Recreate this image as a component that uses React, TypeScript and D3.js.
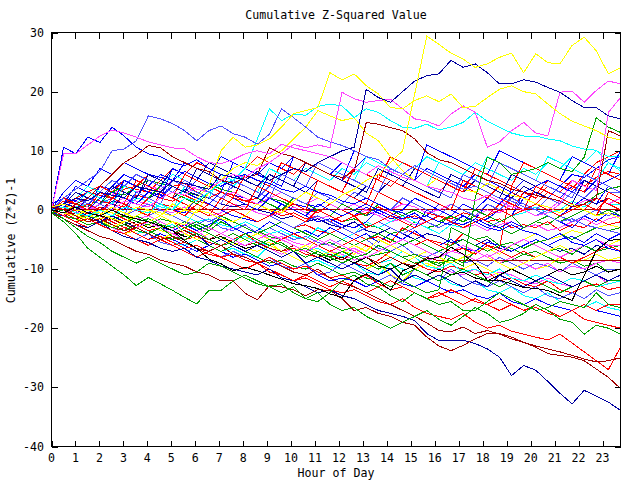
import React from 'react';
import * as d3 from 'd3';

const TITLE = 'Cumulative Z-Squared Value';
const X_LABEL = 'Hour of Day';
const Y_LABEL = 'Cumulative (Z*Z)-1';
const X_DOMAIN: [number, number] = [0, 23.75];
const Y_DOMAIN: [number, number] = [-40, 30];
const X_TICKS = [0, 1, 2, 3, 4, 5, 6, 7, 8, 9, 10, 11, 12, 13, 14, 15, 16, 17, 18, 19, 20, 21, 22, 23];
const Y_TICKS = [-40, -30, -20, -10, 0, 10, 20, 30];

// Each series: cumulative value every half hour across the day (48 readings)
const zeroLine = [0,0,0,0,0,0,0,0, 0,0,0,0,0,0,0,0, 0,0,0,0,0,0,0,0, 0,0,0,0,0,0,0,0, 0,0,0,0,0,0,0,0, 0,0,0,0,0,0,0,0];
const b01 = [0,1,3,2,1.5,1,0.5,2.5, 2,1,0.5,0,-0.5,1,0,-1, -1.5,-2,-1,-2,-3,-2.5,-3.5,-4, -3,-4,-5,-4.5,-5.5,-3,-4,-5, -5.5,-6,-4,-5,-6,-6.5,4,3, 2.5,5,4,3.5,6,8,9,10];
const b02 = [1,2,1.5,0.5,4,3.5,5,4, 3,2.5,4,3,5,4,3,2.5, 2,1,3,2,1,0.5,-0.5,1, 0,-1,0.5,-0.5,-1.5,-1,0,-1, 1,0,-1,-2,-1.5,0,-1,3, 4,5,4,6,5.5,7,8.5,9];
const b03 = [0,-1,-0.5,-1.5,-2.5,-2,-3,-4, -3.5,-4.5,-5.5,-6,-5,-6,-7,-6.5, -7.5,-8,-6,-7,-8,-9,-8.5,-9.5, -10,-9,-10.5,-11,-9,-10,-11.5,-12, -11,-12.5,-13,-12,-13.5,-14,-13,-14.5, -15,-14,-15.5,-16,-16.5,-15.5,-16.5,-17];
const b04 = [0,-0.5,1,0.5,2,3,2.5,4, 5,4.5,4,3,2.5,4.5,3.5,3, 2,1,2,1.5,0.5,-0.5,0,-1, -2,-1.5,-2.5,-3,-4,-3.5,-2,-3, -2.5,-1,-2,-1,-2,-3,-4,-3, -2,-2.5,-1,0,1,2.5,3.5,4];
const b05 = [0,-1,0.5,0,-1,-1.5,-2.5,-2, -3,-2,-3,-4,-3.5,-5,-4.5,-5.5, -6,-5,-6.5,-7.5,-6.5,-7,-8,-7, -7.5,-8.5,-8,-9.5,-10,-9,-10,-11, -9.5,-10.5,-11,-10,-11.5,-10.5,-11,-12, -12.5,-11.5,-12.5,-13,-12,-11,-12.5,-12];
const b06 = [-0.5,-1,-2,-1.5,-2.5,-3.5,-3,-4, -5,-4,-5,-6,-7,-6,-7,-8, -7.5,-8.5,-9.5,-9,-10,-9.5,-11,-12, -11.5,-12,-13,-12,-11,-12.5,-13,-12, -13,-14,-13.5,-14.5,-15,-14,-15.5,-16, -15,-16,-16.5,-17,-16,-17,-17.5,-18];
const b07 = [0,0.5,-0.5,-1,-1.5,-1,-2,-3, -2.5,-3.5,-4,-3,-4,-5,-4.5,-6, -5,-6,-5.5,-7,-6,-7,-5,-6, -7,-7.5,-6,-7,-8,-9,-8,-9.5, -8.5,-9,-8,-7,-6.5,-7.5,-6,-5, -4,-5,-4.5,-3.5,-4,-3,-2.5,-3];
const b08 = [0,1,0,-0.5,1,2,1,0, -1,0,-1,-2,-2.5,-1.5,-3,-3.5, -2.5,-4,-3,-4,-5,-4.5,-5.5,-6, -5,-6,-5,-6.5,-7,-6,-7.5,-8, -7,-8,-9,-8.5,-9.5,-8,-9,-10, -9,-9.5,-10.5,-9,-10,-11,-10,-10];
const b09 = [1,0,2,1.5,3,2,4,3.5, 3,2,1.5,2.5,1.5,1,0,2, 1.5,1,0,-1,-0.5,-1.5,-1,-2, -1,0,-1,3,2,1,0.5,-0.5, -1,-1.5,-0.5,-1,-2,-1.5,-3,-2.5, -3,-2,-3.5,-2.5,-3,-1.5,-2.5,-2];
const b10 = [0,-0.5,-1.5,-1,-2,-3,-3.5,-2.5, -3.5,-4.5,-5,-4,-5,-6,-7,-6, -7,-8,-9,-8.5,-9.5,-10,-9,-10, -11,-10.5,-11.5,-12,-13,-12,-13,-14, -13.5,-3,-4,-5,-4.5,-6,-6.5,-7.5, -7,-8,-9,-8.5,-9.5,-9,-10.5,-10];
const b11 = [0,0.5,1.5,0.5,0,1,2,1.5, 1,0,-0.5,0.5,0,-1,-0.5,1, 0.5,-0.5,-1,-0.5,0.5,-0.5,-1.5,-1, -2,-1,0,-1,-2,-1.5,-2.5,-2, -1,-2,-3,-2.5,-3.5,-2.5,-2,-3, -2.5,-3.5,-3,-2,-1.5,-2.5,-1.5,-1];
const b12 = [0,-0.5,0.5,1,0,-1,0,2, 1.5,0.5,0,-1,-2,-1.5,-2.5,-3, -2,-3,-4,-3.5,-4.5,-5,-3,-4, -5,-4,-2,-3,-2,-1,-2,-3, -4,-2.5,-3,-2,-1,0,-1,-0.5, 0.5,-0.5,0,1.5,0.5,2,1,1];
const b13 = [0,-1,-1.5,-0.5,-1,-2,-3,-2.5, -3.5,-3,-4,-5,-4.5,-5.5,-6,-5, -4,-5.5,-6,-7,-6.5,-7.5,-8,-7, -8,-9,-9.5,-8.5,-7,-8,-9,-10, -10.5,-9.5,-10,-11,-10.5,-12,-11.5,-12.5, -13,-12,-13.5,-14,-13,-12.5,-13.5,-13];
const b14 = [0,2,1.5,3,2,1,0,3, 2,1,0,-0.5,2,1,0,-1, -1.5,-2,-1,1,0,-1,-2,-1.5, -2.5,-3,-2,0,-1,-2,-3,0, -1,-2,-2.5,-1.5,1,0,-1,2, 1,0,-1,0.5,2,1,4,3];
const b15 = [0,1,0.5,-0.5,0,1.5,1,0, 2,3,2,3.5,2.5,2,1,0.5, 1,0,-0.5,-1.5,-1,-2,-1.5,-2.5, -3,-2,-3.5,-4,-3,-4,-5,-4, -4.5,-5.5,-5,-6,-5,-6.5,-7,-6, -5,-6,-7,-6.5,-7.5,-6,-6.5,-6];
const b16 = [0,-0.5,-1.5,-2,-1.5,-3,-4,-3.5, -4,-5,-4,-3,-4,-5,-6,-5.5, -6.5,-7,-6,-7,-8,-9,-8,-7, -8,-9,-10,-9,-11,-12,-10,-9, -10,-11,-10,-9,-10,-11,-10,-9, -10,-9.5,-8,-9,-8.5,-7.5,-8.5,-8];
const b17 = [0,-1,-1.5,-2.5,-2,-3,-4,-5, -4,-5.5,-6,-7,-6.5,-7.5,-8,-7, -8,-9,-8,-9.5,-10,-9,-11,-10.5, -9,-10,-11,-12,-11,-12.5,-10,-11, -12,-10,-11.5,-12.5,-13,-12,-13,-14, -13,-14.5,-15,-14,-15,-13.5,-14.5,-14];
const b18 = [0,1.5,1,3,2.5,2,3.5,4, 3,5,4,4.5,3,2,3,2.5, 1.5,2,1,0,1,0,-0.5,1, 0,-1,-0.5,0.5,-0.5,-1.5,-1,-2, -1,-2,-3,-2,-1,1,0,3, 2,4,3,5,4,5.5,6.5,6];
const b19 = [-0.5,0,-1,0,-0.5,-1.5,-1,-2, -2.5,-1.5,-2,-3,-2.5,-3.5,-2,-3, -4,-3.5,-4.5,-5,-4,-5,-6,-5.5, -6.5,-7,-8,-7.5,-7,-8,-9,-8.5, -9.5,-8,-9,-7,-8,-9,-8.5,-7.5, -8,-7,-6.5,-7.5,-6,-7,-6.5,-6];
const b20 = [0,0.5,-0.5,0,1,0,-1,-1.5, -1,-2,-3,-2.5,-2,-3,-4,-3, -4,-3.5,-5,-4.5,-5.5,-6,-5,-6, -7,-6.5,-7.5,-6,-7,-8,-7.5,-8.5, -8,-7,-7.5,-8.5,-7.5,-9,-8,-9, -10,-9,-10.5,-9.5,-10,-9,-8.5,-9];
const b21 = [0,-1,0,-1,-2,-1.5,-2,-3, -2,-3,-3.5,-2.5,-3.5,-2.5,-1.5,-3, -4,-3.5,-2,-3,-4,-3.5,-4.5,-3, -4,-5,-4,-5.5,-4,-5,-3.5,-5, -6,-5,-6.5,-7,-5.5,-6,-7,-6, -5,-6,-5,-4.5,-5.5,-4,-5,-4];
const b22 = [0,0.5,0,-1,-0.5,-1.5,-2,-1, -2,-3,-2.5,-3.5,-4,-3,-4,-5, -4.5,-5.5,-6,-5,-6,-7,-6.5,-7.5, -8,-7,-8,-9,-8.5,-7,-8,-9.5, -10,-9,-10.5,-10,-11,-10,-11.5,-12, -11,-12,-12.5,-11.5,-12,-13,-12.5,-12];
const b23 = [0,-0.5,-1,0,-1,-1.5,-2.5,-2, -3,-2.5,-3.5,-4.5,-4,-5,-4.5,-5.5, -6.5,-6,-5,-6,-7,-6.5,-7.5,-8.5, -8,-9,-8,-9.5,-10,-9,-10,-11, -10,-11,-10.5,-11.5,-12,-11,-10,-11, -12,-11,-10,-11,-10.5,-9.5,-10.5,-10];
const b24 = [0,-1,-0.5,-1.5,-2,-1.5,-2.5,-3, -2,-3,-4,-3.5,-4.5,-5,-4,-5, -6,-5.5,-6.5,-7,-6,-7,-8,-7.5, -8.5,-7,-8,-9,-8,-9,-9.5,-8, -8.6,-8.6,-8.6,-8.6,-8.6,-8.6,-8.6,-8.6, -8.6,-8.6,-8.6,-8.6,-8.6,-8.6,-8.6,-8.6];
const b26 = [0,-1,-2,-1.5,-2.5,-3.5,-3,-4, -5,-4.5,-5.5,-6.5,-6,-7,-8,-7.5, -8.5,-9,-8,-9,-10,-9.5,-10.5,-11.5, -11,-12,-11,-12.5,-13.5,-13,-14,-15, -14.5,-13.5,-14.5,-15.5,-16,-15,-16,-17, -16.5,-17.5,-18,-17,-18.5,-19,-19.5,-20];
const b27 = [0,3,5,4,7,6,8,7, 6,5.5,5,6.5,5.5,4.5,4,5, 4,3,2,3,2,1,0.5,2, 1,0,-1,0,-1,-1.5,-0.5,-2, -1,-2,-2.5,-1.5,-2.5,-3,-2,-3, -2,-1,-2,-3,-1,-2,-0.5,-1];
const b28 = [0,-1,-2,-1,-2,-3,-2.5,-1, -2,-3,-4,-3,-2,-3,-1,-2, -3,-4,-3,-2,-3,-4,-5,-4, -5,-6,-5,-4,-5,-6,-5,-6, -7,-6,-5,-6,-7,-6,-5.5,-6.5, -5.5,-5,-4,-5,-4,-3,-3.5,-3];
const b29 = [0,1,2,1.5,3,2.5,4,3, 4,3.5,5,4.5,3.5,3,2,3, 2,1,2,3,2,1,2,1, 0,1,0,-1,0,1,0.5,-0.5, 0,1,0,-1,0,-0.5,1,0, 1,0,1.5,0.5,1.5,2,1,2];
const b30 = [0,-0.5,-1.5,-1,0.5,-0.5,-1.5,-2.5, -2,-3,-2,-3,-4,-3,-4,-5, -4,-5,-6,-5,-4,-5,-6,-7, -6,-5,-6,-7,-6,-5,-6,-5, -6,-7,-6.5,-7.5,-6,-7,-8,-7, -8,-7,-8,-9,-8,-7,-6,-7];
const b31 = [0,1,2,4,3,5,4,6, 5,4,6,5,4,3,5,4, 6,5,4,6,5,7,6,5, 7,6,8,7,6,8,7,9, 8,7,6,8,7,6,5,7, 6,8,7,9,8,10,9,9];
const b32 = [0,-1,-2,-1,-2,-3,-2,-3, -4,-3,-2,-4,-5,-4,-5,-6, -5,-4,-5,-6,-7,-6,-7,-8, -7,-6,-7,-5,-6,-7,-8,-7, -8,-9,-8,-7,-8,-9,-10,-9, -8,-7,-6,-7,-6,-5,-6,-5];
const b33 = [0,1,0,2,1,0,-1,0, 1,0,-1,0,-1,-2,-1,0, -1,-2,-1,-2,-3,-2,-1,-2, -3,-4,-3,-2,-3,-4,-3,-2, -3,-2,-1,-2,-3,-2,-1,0, -1,0,-1,-2,-1,0,-1,0];
const b34 = [0,-1,-2,-3,-2,-3,-4,-5, -6,-5,-6,-7,-8,-7,-8,-9, -10,-9,-10,-11,-12,-11,-12,-13, -12,-13,-14,-13,-12,-13,-14,-15, -14,-15,-16,-15,-16,-17,-16,-17, -16,-17,-18,-17,-16,-17,-16,-16];
const b35 = [0,0.5,-0.5,-1.5,-1,0,-1,-2, -1.5,-2.5,-3,-2,-3,-4,-5,-4, -5,-6,-5,-6,-7,-8,-7,-8, -9,-8,-9,-10,-9,-11,-10,-11, -12,-11,-10,-11,-12,-13,-12,-13, -12,-13,-14,-13,-12,-13,-12,-12];
const b36 = [0,-1,0,-1,-2,-1,-2,-3, -4,-3,-4,-5,-4,-6,-5,-6, -7,-6,-7,-8,-7,-9,-8,-9, -10,-9,-10,-11,-10,-12,-11,-12, -11,-12,-13,-12,-13,-11,-12,-13, -12,-11,-12,-13,-12,-11,-12,-11];
const b37 = [0,2,1,0,2,3,2,1, 3,2,4,3,2,1,3,2, 1,0,2,1,0,-1,1,0, -1,0,1,0,-1,0,2,1, 0,-1,1,0,2,1,3,2, 3,2,4,3,5,4,5,6];
const b38 = [0,-1,-1.5,-2.5,-2,-3,-4,-3, -2,-3,-4,-5,-4,-3,-4,-5, -6,-5,-4,-5,-6,-7,-6,-5, -6,-7,-8,-7,-6,-5,-6,-7, -8,-7,-6,-7,-8,-7,-6,-5, -6,-7,-8,-7,-6,-5,-6,-6];
const b39 = [0,1,2,3,4,3,5,4, 6,5,7,6,8,7,6,5, 7,9,8,7,6,8,7,6, 5,7,6,5,4,6,5,4, 3,5,4,3,2,4,3,2, 1,3,2,1,0,2,1,0];
const b40 = [0,0.5,1.5,3,2,4,6,5, 4,6,5,8,7,6,9,8, 7,6,8,7,9,8,7,6, 8,7,9,8,7,6,5,7, 6,5,4,6,5,4,3,5, 4,3,2,4,3,5,4,3];
const b41 = [0,1,3,2,1,4,3,2, 5,4,7,6,5,8,7,6, 5,4,6,5,4,3,5,4, 3,2,4,3,5,4,7,6, 5,4,3,5,4,3,2,4, 3,2,1,3,2,1,2,1];
const b42 = [0,-0.5,0,2,1,3,4,3, 2,4,3,2,1,3,2,4, 3,2,1,0,2,1,0,-1, 1,0,-1,1,0,-1,0,-1, -2,-1,-2,0,-1,-2,-1,-3, -2,-1,-2,-1,0,-1,0,-1];
const b43 = [0,1,2,1,3,5,4,6, 5,4,3,5,4,3,2,4, 3,2,4,3,2,1,3,2, 1,3,2,1,0,2,1,0, -1,1,0,-1,1,0,2,1, 0,2,1,3,2,4,3,3];
const b44 = [0,-1,0,1,0,-1,1,0, 2,1,0,-1,1,0,-1,0, -1,-2,-1,0,-1,-2,0,-1, -2,-1,-3,-2,-1,-2,-3,-2, -1,-2,-3,-2,-1,0,-1,0, 1,0,-1,0,1,0,2,1];
const n01 = [0,1,4,3,2,1,5,4, 3,2,7,6,5,4,3,8, 7,6,5,4,9,8,7,6, 5,10,9,8,7,6,5,11, 10,9,8,7,6,10,9,8, 7,6,5,9,8,7,6,10];
const n02 = [0,2,1,0,3,2,1,5, 4,3,2,6,5,4,3,2, 6,5,4,8,7,6,5,4, 3,7,6,5,9,8,7,6, 5,4,3,7,6,5,4,8, 7,6,5,4,3,7,6,5];
const n03 = [0,-0.5,1,3,2,1,4,3, 2,1,0,4,3,2,6,5, 4,3,7,6,5,4,8,7, 6,5,9,8,7,6,5,4, 8,7,6,5,9,8,7,6, 5,9,8,7,6,5,8,7];
const n04 = [0,1,0,2,1,0,3,2, 6,5,4,3,7,6,5,4, 3,2,6,5,4,8,7,6, 5,4,3,7,6,5,4,3, 2,6,5,4,3,2,6,5, 4,3,2,1,5,4,3,2];
const n05 = [0,0.5,-0.5,2,1,0,-1,3, 2,1,5,4,3,2,1,5, 4,3,2,6,5,4,8,7, 6,5,4,3,7,6,5,4, 3,2,6,5,4,8,7,6, 5,4,3,2,6,5,4,3];
const n06 = [0,-1,1,0,-1,2,1,0, -1,3,2,1,0,-1,2,1, 0,4,3,2,1,0,5,4, 3,2,1,6,5,4,3,2, 1,0,5,4,3,2,1,0, 4,3,2,1,0,-1,3,2];
const o01 = [0.5,1,0,-0.5,-1,0.5,-0.5,-1.5, -2,-1,-2,-2.5,0,-0.5,-1.5,-2, -1,1,0,-0.5,1.5,3,2,1, 2.5,3.5,5,6,8,10,19.6,29.4, 28,26.5,25.5,24.1,24.7,25.8,26.5,23.2, 26.4,24.9,24.7,27.8,29.2,26.9,23,24];
const o02 = [0,1,2,1.5,3,2.5,2,4, 3.5,3,5,4.5,4,3.5,6,5.5, 5,6.5,5,6,7,6.5,8,9, 10,10.6,20.4,19,18.2,20,21.8,22.7, 23,25.3,24.1,24.7,23.2,21.3,21.3,22, 21.6,20.7,19.9,18.5,17.3,17.3,15.9,15.4];
const o03 = [0,-1,0.5,-0.5,-1,0,1.5,1, 0.5,2,3,2.5,4,3.5,5,6, 5.5,7,8,9.5,11.1,10.5,11,10.5, 19.9,18.8,18.2,18.5,18.7,17.1,15.4,15, 14.2,16.2,17.6,16.5,10.6,11.5,13.4,14.8, 13,12.5,19.9,20.1,18.2,20.2,21.8,21.3];
const o04 = [0,9.5,9.5,11,12.5,13.5,13,12.3, 11.5,11,10.5,10.3,9,8,7.8,8.5, 9.5,10,9.5,11.1,10.5,10,9.5,9, 8,7,6,7.5,6.5,5.5,5,4, 3.5,3,2,1.5,2.5,1.5,0.5,0, -1,-0.5,1,5,4,3.3,16.5,19];
const o05 = [0,-0.5,-1,0,-0.5,-1.5,-2,-1, 0,-0.5,-1,0,2,4,10,12.3, 10.6,11,12,14,16.3,16.8,17.3,23.2, 22,23,21,19.6,17.3,17.1,18.5,19.3, 18.3,19.6,17.3,17.5,19,20.4,21,20, 19.6,17.9,16.3,15,14.2,13.4,12.3,11.8];
const o06 = [0.5,0,-1,-1.5,0,-0.5,-1,0.5, 0,-1,1,0,-0.5,3,5,7, 8,7.5,9,10,12,14,16.8,15.9, 15.1,15.6,13,11.7,9,6.6,5,4, 5.5,4.5,3.5,3,4.5,3.5,2.5,2, 1,0.5,-0.5,1,0,-1,-0.5,-1.5];
const o07 = [0,0.5,-0.5,-1,0,-1,0.5,0, -0.5,1,0,2,1.5,3,4.5,5, 7,12,17.1,15.1,16.2,16,17.5,17.9, 17.6,15.6,17.1,16.5,15.1,14,13.8,14.5, 13.5,14,14.8,16.5,15,14,13,12.5, 12.5,12,11.7,10.8,10.3,10.1,8,6.6];
const o08 = [0,2,3.5,5,6.5,10,10.3,11.7, 15.9,15.4,14.6,13.4,11.7,13.4,14.2,12.9, 12.3,11.1,12.8,17.1,15.6,14,12.3,11.5, 10.9,10,9,8.5,7,6,7.5,6.5, 5.5,4.5,3.5,4,3,2,1.5,0.5, 0,-1,-2,-1.5,-2.5,-3,-3.5,-4];
const o09 = [0,10.6,9.5,12.3,11.4,14,12.5,10.6, 9.5,9,8,7.5,8.5,7,6,5.5, 6,5,4.5,3.5,3,4,3,2.5, 1.5,1,2,1,0,-0.5,-1.5,-1, -2,-2.5,-1,-2,-3,-3.5,-2.5,-3.5, -4,-5,-4,-5.5,-6,-5,-6.5,-7];
const o10 = [0,-0.5,1,2,4,6,8,9.2, 10.9,10.5,9,8,7,6.5,5,4.5, 5.5,6,10.5,9.5,9,8,7,6, 5.5,6.5,14.8,14.5,13.9,13.4,12,9.7, 8.5,8,7,6,5,4.5,3.5,3, 2.5,2,1.5,0.5,1,2,13.4,12.5];
const o11 = [0,-1,-1.5,-2.5,-2,-3,-2.5,-3.5, -4,-3,-4.5,-5,-4,-5,-6,-5.5, -4,-5,-6,-5.5,-7,-6.5,-7.5,-8, -7,-8,-7.5,-6,-7,-8,-7.5,-8.5, -9,-8.5,-9.5,2,8.9,8,6,6.5, 7,8,7,6.5,8.9,15.6,14,13.1];
const o12 = [-0.5,-1.5,-2.5,-3,-2,-3.5,-4.5,-5, -5.5,-6.5,-7,-6.5,-8,-8.5,-9.5,-10, -10.5,-11,-10,-11.5,-12,-13,-14,-13.5, -14.5,-15,-16,-17,-17.5,-18,-18.7,-20.9, -22.1,-22.1,-22,-22.6,-23.5,-24.9,-28,-26.3, -27.1,-29,-31,-32.8,-30.5,-31.5,-32.5,-33.9];
const o13 = [-0.5,-1.5,-2.5,-3.5,-4.5,-5,-6,-7, -7.5,-8.5,-9,-9.5,-10.5,-11,-12,-12, -14.1,-15.2,-12.8,-13,-13.5,-14.5,-13.5,-13.6, -15,-17,-16.5,-17.5,-18,-19,-19.5,-21.5, -23,-23.8,-22.9,-21.8,-20.9,-20.9,-21.5,-22.4, -23.2,-24.3,-24.6,-24.9,-25.5,-26.9,-28.3,-30.2];
const o14 = [0,-1,-2,-1.5,-2.5,-3.5,-4,-3, -4,-5,-6,-5.5,-6.5,-7.5,-8,-9, -10,-9,-10.5,-11,-12,-11.5,-12.5,-13.5, -14,-13.5,-14.5,-15.5,-16,-15,-16.5,-17.5, -18,-18.5,-17.5,-19,-20,-19.5,-20.5,-21, -21.5,-22,-21,-22.5,-24,-25.5,-27,-23.2];
const o15 = [0.5,0,-1,-2,-1.5,-2.5,-3.5,-3, -4,-5,-4.5,-5.5,-6.5,-7,-6,-7.5, -8,-9,-8.5,-9.5,-10.5,-11,-10,-11.5, -12.5,-13,-14,-15,-16,-17,-18,-19.1, -20.4,-20.6,-19.8,-20.9,-20.4,-21,-21.8,-22.4, -23,-23.5,-24,-24.6,-25.2,-25.7,-25.5,-25];
const o16 = [-0.5,-2,-4,-6.5,-8,-9.5,-11,-12.8, -11.4,-12.5,-13.6,-14.8,-15.9,-13.6,-13.6,-12, -11,-12,-13,-12.5,-14,-15,-14,-16, -17,-16.5,-18,-19,-20,-19,-18,-17, -18.5,-19.5,-18,-16.5,-17.5,-19,-18.5,-17.5, -16,-17,-18.5,-19,-21,-19.5,-20,-21];
const o17 = [0,-1.5,-3,-4.5,-5.5,-7,-8,-9, -8,-9,-10,-11,-10.5,-9,-9.5,-10.5, -11.5,-12.5,-13,-14,-13,-15,-15.5,-14, -12,-11,-12.5,-13,-14.5,-15.5,-14,-15, -16,-15.5,-17,-17,-15.5,-14,-15,-16, -17,-16.5,-15.5,-16,-16.5,-14,-16,-16.5];
const o18 = [0,-0.5,0.5,-0.5,-1,0,-1,-1.5, -2,-2.7,-3.5,-5.2,-6.5,-8.3,-9.1,-10.3, -9.7,-10.3,-11,-11.7,-12.5,-12.8,-13.3,-14.2, -14.8,-11.9,-10.8,-12,-13.6,-10.3,-9.4,-8.3, -8,-6.3,-7.5,-9.1,-11.9,-11.9,-12.5,-13.1, -13.3,-13.6,-14.5,-15.3,-11.1,-6.9,-5.2,-4.9];

const SERIES = [
  b01, b02, b03, b04, b05, b06, b07, b08, b09, b10, b11, b12, b13, b14, b15, b16, b17, b18, b19, b20, b21, b22,
  zeroLine, b23, b24, b26, b27, b28, b29, b30, b31, b32, b33, b34, b35, b36, b37, b38, b39, b40, b41, b42, b43, b44,
  n01, n02, n03, n04, n05, n06,
  o06, o07, o08, o09, o10, o11, o04, o03, o05, o02, o01, o12, o13, o14, o15, o16, o17, o18,
];

const RED = '#ff0000', GREEN = '#00a000', BLUE = '#0000ff', MAGENTA = '#ff44ff', CYAN = '#00ffff',
  YELLOW = '#ffff00', BLACK = '#000000', DARKRED = '#a00000', NAVY = '#0000a0', LIGHTBLUE = '#5050ff';

const SERIES_COLORS = [
  RED, BLUE, CYAN, GREEN, MAGENTA, BLUE, YELLOW, LIGHTBLUE, RED, GREEN, MAGENTA, CYAN, RED, BLUE, NAVY, YELLOW, LIGHTBLUE, RED, GREEN, MAGENTA, BLUE, CYAN,
  DARKRED, BLACK, DARKRED, RED, BLUE, GREEN, MAGENTA, RED, CYAN, YELLOW, LIGHTBLUE, RED, GREEN, NAVY, BLUE, MAGENTA, RED, BLUE, NAVY, GREEN, LIGHTBLUE, RED,
  BLUE, RED, CYAN, NAVY, LIGHTBLUE, RED,
  YELLOW, CYAN, LIGHTBLUE, BLUE, DARKRED, GREEN, MAGENTA, MAGENTA, YELLOW, NAVY, YELLOW, NAVY, DARKRED, RED, DARKRED, GREEN, GREEN, BLACK,
];

const FONT = "'DejaVu Sans Mono', 'Liberation Mono', monospace";

export default function App() {
  const x = d3.scaleLinear().domain(X_DOMAIN).range([51.5, 620.5]);
  const y = d3.scaleLinear().domain(Y_DOMAIN).range([446.5, 32.5]);
  const [x0, x1] = x.range();
  const [yb, yt] = y.range();
  const line = d3
    .line<number>()
    .x((_, i, arr) => x((i * (X_DOMAIN[1] - X_DOMAIN[0])) / ((arr as number[]).length - 1)))
    .y((d) => y(d));
  const TL = 6;

  return (
    <svg
      width={640}
      height={480}
      viewBox="0 0 640 480"
      style={{ position: 'absolute', left: 0, top: 0, display: 'block', background: '#fff' }}
      fontFamily={FONT}
    >
      <rect x={0} y={0} width={640} height={480} fill="#fff" />
      <defs>
        <clipPath id="plotClip">
          <rect x={x0} y={yt} width={x1 - x0} height={yb - yt} />
        </clipPath>
      </defs>
      <g clipPath="url(#plotClip)">
        {SERIES.map((s, i) => (
          <path
            key={i}
            d={line(s) || ''}
            fill="none"
            stroke={SERIES_COLORS[i % SERIES_COLORS.length]}
            strokeWidth={1}
            shapeRendering="crispEdges"
          />
        ))}
      </g>
      <g stroke="#000" strokeWidth={1} shapeRendering="crispEdges" fill="none">
        <rect x={x0} y={yt} width={x1 - x0} height={yb - yt} />
        {X_TICKS.map((t) => (
          <g key={'xt' + t}>
            <line x1={Math.round(x(t)) + 0.5} x2={Math.round(x(t)) + 0.5} y1={yb} y2={yb - TL} />
            <line x1={Math.round(x(t)) + 0.5} x2={Math.round(x(t)) + 0.5} y1={yt} y2={yt + TL} />
          </g>
        ))}
        {Y_TICKS.map((t) => (
          <g key={'yt' + t}>
            <line x1={x0} x2={x0 + TL} y1={Math.round(y(t)) + 0.5} y2={Math.round(y(t)) + 0.5} />
            <line x1={x1} x2={x1 - TL} y1={Math.round(y(t)) + 0.5} y2={Math.round(y(t)) + 0.5} />
          </g>
        ))}
      </g>
      <g fontSize={11.6} fill="#000">
        {X_TICKS.map((t) => (
          <text key={'xl' + t} x={x(t)} y={yb + 15} textAnchor="middle">
            {t}
          </text>
        ))}
        {Y_TICKS.map((t) => (
          <text key={'yl' + t} x={44} y={y(t) + 4} textAnchor="end">
            {t}
          </text>
        ))}
        <text x={(x0 + x1) / 2} y={19} textAnchor="middle">
          {TITLE}
        </text>
        <text x={(x0 + x1) / 2} y={477} textAnchor="middle">
          {X_LABEL}
        </text>
        <text transform={`translate(14.5, ${(yb + yt) / 2 + 1}) rotate(-90)`} textAnchor="middle">
          {Y_LABEL}
        </text>
      </g>
    </svg>
  );
}
